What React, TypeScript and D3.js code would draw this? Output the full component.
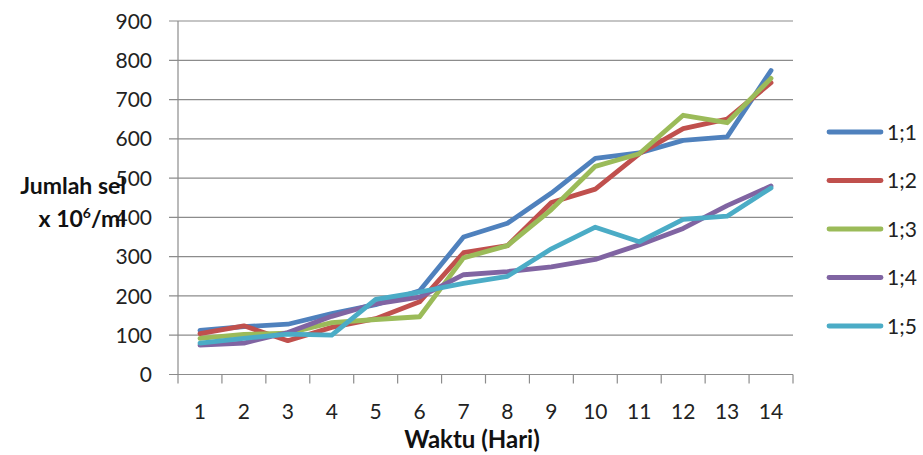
import React from "react";
import * as d3 from "d3";

const days = [1, 2, 3, 4, 5, 6, 7, 8, 9, 10, 11, 12, 13, 14];
const yTicks = [0, 100, 200, 300, 400, 500, 600, 700, 800, 900];
const seriesNames = ["1;1", "1;2", "1;3", "1;4", "1;5"];
const seriesColors = ["#4F81BD", "#C0504D", "#9BBB59", "#8064A2", "#4BACC6"];
const s11 = [112, 122, 128, 155, 178, 213, 350, 385, 462, 550, 564, 596, 605, 774];
const s12 = [104, 124, 86, 120, 142, 185, 310, 328, 438, 472, 562, 626, 650, 743];
const s13 = [92, 102, 105, 132, 140, 147, 297, 328, 420, 530, 562, 660, 641, 754];
const s14 = [75, 80, 107, 148, 180, 197, 254, 262, 274, 293, 330, 372, 430, 480];
const s15 = [80, 92, 103, 100, 191, 210, 232, 250, 320, 375, 338, 395, 403, 475];
const seriesValues = [s11, s12, s13, s14, s15];

const font = "Lato, 'Open Sans', sans-serif";

export default function App() {
  const left = 178;
  const right = 793;
  const top = 21;
  const bottom = 374.5;
  const x = d3.scaleBand<number>().domain(days).range([left, right]);
  const y = d3.scaleLinear().domain([0, 900]).range([bottom, top]);
  const line = d3
    .line<number>()
    .x((_, i) => (x(days[i]) as number) + x.bandwidth() / 2)
    .y((v) => y(v));
  const boundaries = d3.range(days.length + 1).map((i) => left + i * x.step());

  return (
    <div style={{ position: "absolute", left: 0, top: 0 }}>
      <svg width={923} height={455} style={{ display: "block", background: "#fff" }}>
        {yTicks.map((t) => (
          <g key={t}>
            <line x1={169} x2={right} y1={y(t)} y2={y(t)} stroke="#8c8c8c" strokeWidth={1.2} />
            <text
              x={152}
              y={y(t)}
              dy="0.36em"
              textAnchor="end"
              fontFamily={font}
              fontSize={21}
              fill="#222"
            >
              {t}
            </text>
          </g>
        ))}
        <line x1={left} x2={left} y1={top} y2={bottom} stroke="#8c8c8c" strokeWidth={1.2} />
        {boundaries.map((bx, i) => (
          <line key={i} x1={bx} x2={bx} y1={bottom} y2={bottom + 9} stroke="#8c8c8c" strokeWidth={1.2} />
        ))}
        {days.map((d) => (
          <text
            key={d}
            x={(x(d) as number) + x.bandwidth() / 2}
            y={419}
            textAnchor="middle"
            fontFamily={font}
            fontSize={21}
            fill="#222"
          >
            {d}
          </text>
        ))}
        <text x={472} y={448} textAnchor="middle" fontFamily={font} fontWeight="bold" fontSize={24} fill="#111">
          Waktu (Hari)
        </text>
        <text x={126} y={194} textAnchor="end" fontFamily={font} fontWeight="bold" fontSize={23} fill="#111">
          Jumlah sel
        </text>
        <text x={126} y={227} textAnchor="end" fontFamily={font} fontWeight="bold" fontSize={23} fill="#111">
          x 10<tspan dy={-9} fontSize={14}>6</tspan>
          <tspan dy={9}>/ml</tspan>
        </text>
        {seriesValues.map((vals, si) => (
          <path
            key={si}
            d={line(vals) as string}
            fill="none"
            stroke={seriesColors[si]}
            strokeWidth={4.8}
            strokeLinejoin="round"
            strokeLinecap="round"
          />
        ))}
        {seriesNames.map((n, i) => {
          const ly = 132 + i * 48.5;
          return (
            <g key={n}>
              <line x1={829} x2={881} y1={ly} y2={ly} stroke={seriesColors[i]} strokeWidth={4.8} strokeLinecap="round" />
              <text x={887} y={ly} dy="0.36em" fontFamily={font} fontSize={21} fill="#222">
                {n}
              </text>
            </g>
          );
        })}
      </svg>
    </div>
  );
}
